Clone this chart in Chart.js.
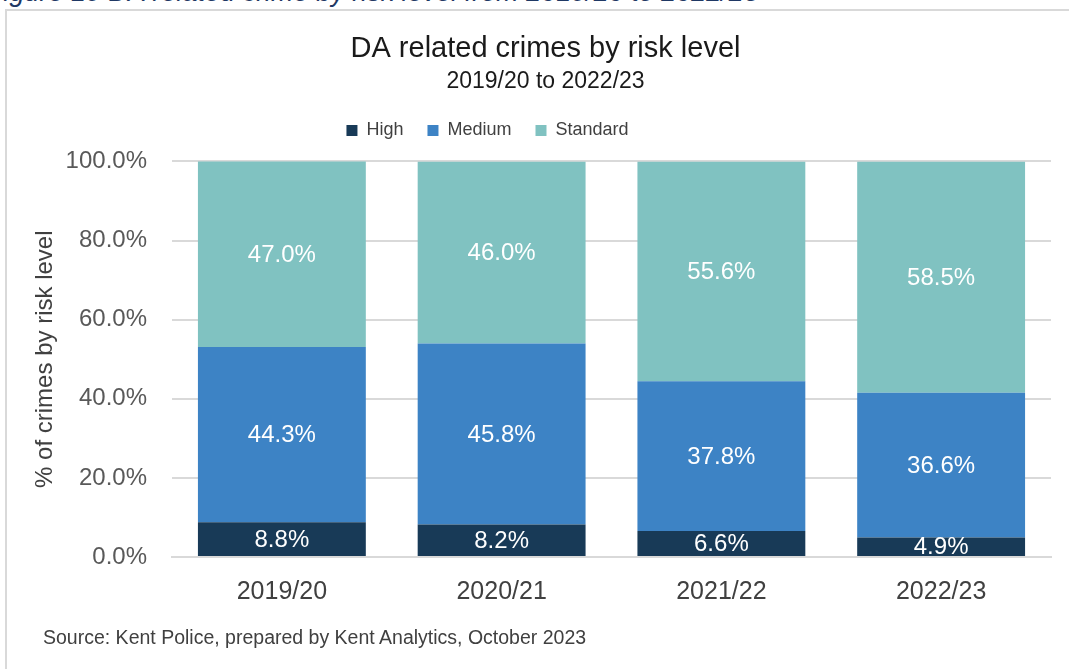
<!DOCTYPE html>
<html>
<head>
<meta charset="utf-8">
<script src="https://cdn.jsdelivr.net/npm/chart.js@4.4.0/dist/chart.umd.min.js"></script>
<style>
  html, body { margin: 0; padding: 0; background: #fff; }
  body { width: 1069px; height: 669px; position: relative; overflow: hidden; font-family: "Liberation Sans", Arial, sans-serif; }
  #caption { position: absolute; left: -13px; top: -21px; font-size: 27px; line-height: 27px; font-style: italic; color: #1f3864; white-space: nowrap; }
  #frame { position: absolute; left: 5px; top: 9px; width: 1100px; height: 700px; border-top: 2px solid #d9d9d9; border-left: 2px solid #d9d9d9; }
  #wrap { position: absolute; left: 0; top: 0; width: 1069px; height: 669px; }
  #source { position: absolute; left: 43px; top: 626px; font-size: 19.5px; color: #404040; white-space: nowrap; }
</style>
</head>
<body>
<div id="caption">Figure 19 DA related crime by risk level from 2019/20 to 2022/23</div>
<div id="frame"></div>
<div id="wrap"><canvas id="chart" width="1069" height="669"></canvas></div>
<div id="source">Source: Kent Police, prepared by Kent Analytics, October 2023</div>
<script>
// values (percent of crimes)
const years = ['2019/20', '2020/21', '2021/22', '2022/23'];
const high = [8.8, 8.2, 6.6, 4.9];
const medium = [44.3, 45.8, 37.8, 36.6];
const standard = [47.0, 46.0, 55.6, 58.5];
const yTicks = [0, 20, 40, 60, 80, 100];

const FONT = '"Liberation Sans", Arial, sans-serif';

// white % labels in the middle of each segment
const segmentLabels = {
  id: 'segmentLabels',
  afterDatasetsDraw(chart) {
    const { ctx, chartArea } = chart;
    ctx.save();
    ctx.beginPath();
    ctx.rect(chartArea.left, chartArea.top, chartArea.right - chartArea.left, chartArea.bottom - chartArea.top);
    ctx.clip();
    ctx.fillStyle = '#ffffff';
    ctx.font = '24px ' + FONT;
    ctx.textAlign = 'center';
    ctx.textBaseline = 'middle';
    chart.data.datasets.forEach((ds, i) => {
      chart.getDatasetMeta(i).data.forEach((bar, j) => {
        const v = ds.data[j];
        ctx.fillText(v.toFixed(1) + '%', bar.x, (bar.y + bar.base) / 2 + 1);
      });
    });
    ctx.restore();
  }
};

// nudge title, subtitle and legend to where the original has them
const nudge = {
  id: 'nudge',
  afterLayout(chart) {
    const move = (box, dx, dy) => {
      if (!box) return;
      box.left += dx; box.right += dx;
      box.top += dy; box.bottom += dy;
    };
    const title = chart.titleBlock;
    chart.boxes.forEach(b => {
      // title and subtitle share the same class
      if (title && b.constructor === title.constructor) move(b, 20, 2);
    });
    move(chart.legend, -38, -12);
  }
};

new Chart(document.getElementById('chart').getContext('2d'), {
  type: 'bar',
  data: {
    labels: years,
    datasets: [
      { label: 'High', data: high, backgroundColor: '#183a57' },
      { label: 'Medium', data: medium, backgroundColor: '#3d83c5' },
      { label: 'Standard', data: standard, backgroundColor: '#80c2c1' }
    ]
  },
  options: {
    responsive: false,
    animation: false,
    layout: { padding: { left: 0, right: 18, top: 0, bottom: 0 } },
    datasets: { bar: { categoryPercentage: 0.764, barPercentage: 1.0 } },
    plugins: {
      title: {
        display: true,
        text: 'DA related crimes by risk level',
        color: '#1a1a1a',
        font: { family: FONT, size: 29, weight: 'normal', lineHeight: 1.2 },
        padding: { top: 30, bottom: 1 }
      },
      subtitle: {
        display: true,
        text: '2019/20 to 2022/23',
        color: '#1a1a1a',
        font: { family: FONT, size: 23, weight: 'normal', lineHeight: 1.2 },
        padding: { top: 0, bottom: 16 }
      },
      legend: {
        display: true,
        labels: {
          color: '#404040',
          font: { family: FONT, size: 18 },
          boxWidth: 11,
          boxHeight: 11,
          padding: 24
        }
      },
      tooltip: { enabled: false }
    },
    scales: {
      x: {
        stacked: true,
        grid: { display: false, drawTicks: false },
        border: { display: true, color: '#d9d9d9', width: 2 },
        ticks: { color: '#404040', font: { family: FONT, size: 25 }, padding: 20 },
        afterFit(scale) { scale.height = 112; }
      },
      y: {
        stacked: true,
        min: 0,
        max: 100,
        afterBuildTicks(scale) { scale.ticks = yTicks.map(v => ({ value: v })); },
        grid: { color: '#d9d9d9', lineWidth: 2, drawTicks: false },
        border: { display: false },
        ticks: {
          color: '#595959',
          font: { family: FONT, size: 24 },
          padding: 25,
          callback: v => v.toFixed(1) + '%'
        },
        title: {
          display: true,
          text: '% of crimes by risk level',
          color: '#404040',
          font: { family: FONT, size: 24 },
          padding: { top: 31, bottom: 0 }
        },
        afterFit(scale) { scale.width = 172; }
      }
    }
  },
  plugins: [segmentLabels, nudge]
});
</script>
</body>
</html>
